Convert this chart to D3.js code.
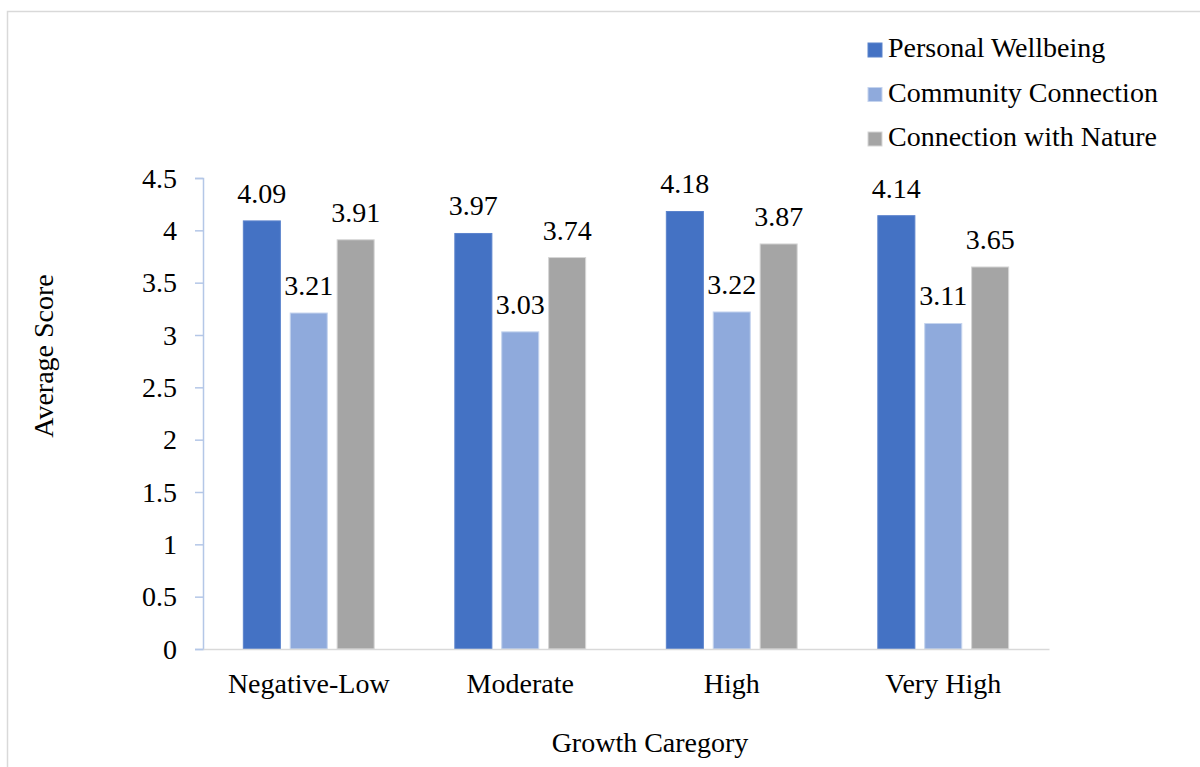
<!DOCTYPE html>
<html><head><meta charset="utf-8">
<script src="https://cdn.jsdelivr.net/npm/d3@7"></script>
</head><body style="margin:0">
<svg id="c" width="1200" height="767"></svg>
<script>
const categories = ["Negative-Low","Moderate","High","Very High"];
const seriesNames = ["Personal Wellbeing","Community Connection","Connection with Nature"];
const personalWellbeing = [4.09,3.97,4.18,4.14];
const communityConnection = [3.21,3.03,3.22,3.11];
const connectionWithNature = [3.91,3.74,3.87,3.65];
const yTicks = [0,0.5,1,1.5,2,2.5,3,3.5,4,4.5];
const colors = ["#4472C4","#8FAADC","#A5A5A5"];
const strokes = ["#5b83cc","#c5d4ee","#d6d6d6"];

const seriesValues = [personalWellbeing, communityConnection, connectionWithNature];
const svg = d3.select("#c");
function txt(sel){ return sel.style("font-family",'"Liberation Serif"').attr("font-size",28).attr("fill","#000"); }

// outer border
svg.append("rect").attr("x",7.5).attr("y",11.5).attr("width",1300).attr("height",1000)
  .attr("fill","none").attr("stroke","#d9d9d9").attr("stroke-width",1.5);

const x = d3.scaleBand().domain(categories).range([203,1049]).paddingInner(0).paddingOuter(0);
const x1 = d3.scaleBand().domain(seriesNames).range([0, x.bandwidth()]).paddingInner(0.21).paddingOuter(0.86);
const y = d3.scaleLinear().domain([0,4.5]).range([649,178]);

// bars
seriesNames.forEach((s,si)=>{
  const g = svg.append("g");
  g.selectAll("rect").data(categories).join("rect")
    .attr("x",c=>x(c)+x1(s))
    .attr("y",(c,i)=>y(seriesValues[si][i]))
    .attr("width",x1.bandwidth())
    .attr("height",(c,i)=>y(0)-y(seriesValues[si][i]))
    .attr("fill",colors[si]).attr("stroke",strokes[si]).attr("stroke-width",1);
  txt(g.selectAll("text").data(categories).join("text")
    .attr("x",c=>x(c)+x1(s)+x1.bandwidth()/2)
    .attr("y",(c,i)=>y(seriesValues[si][i])-18)
    .attr("text-anchor","middle")
    .text((c,i)=>seriesValues[si][i].toFixed(2)));
});

// y axis
const yAxis = svg.append("g").attr("transform","translate(203,0)")
  .call(d3.axisLeft(y).tickValues(yTicks).tickSize(8).tickPadding(18).tickFormat(d=>String(d)));
yAxis.attr("font-family",null).attr("font-size",null);
yAxis.select(".domain").attr("stroke","#b4c7e7").attr("stroke-width",1.5);
yAxis.selectAll(".tick line").attr("stroke","#b4c7e7").attr("stroke-width",1.5);
txt(yAxis.selectAll(".tick text")).attr("dy","0.33em");

// x axis
const xAxis = svg.append("g").attr("transform","translate(0,649)")
  .call(d3.axisBottom(x).tickSize(0));
xAxis.attr("font-family",null).attr("font-size",null);
xAxis.select(".domain").attr("stroke","#d9d9d9").attr("stroke-width",1.5);
txt(xAxis.selectAll(".tick text")).attr("y",44).attr("dy",null);

// axis titles
txt(svg.append("text").attr("transform","translate(53,356) rotate(-90)")
  .attr("text-anchor","middle").text("Average Score"));
txt(svg.append("text").attr("x",650).attr("y",752)
  .attr("text-anchor","middle").text("Growth Caregory"));

// legend
const lg = svg.append("g");
seriesNames.forEach((s,i)=>{
  const base = 57 + i*44.5;
  lg.append("rect").attr("x",868).attr("y",base-14).attr("width",14).attr("height",14)
    .attr("fill",colors[i]).attr("stroke",strokes[i]).attr("stroke-width",1);
  txt(lg.append("text").attr("x",888).attr("y",base).text(s));
});
</script>
</body></html>
